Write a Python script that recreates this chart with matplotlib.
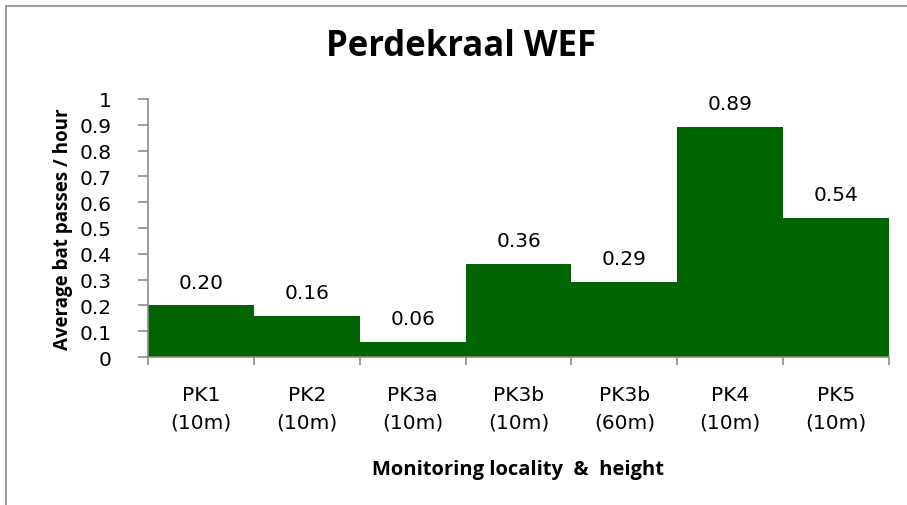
import matplotlib

matplotlib.use("Agg")
import matplotlib.pyplot as plt
from matplotlib.lines import Line2D

plt.rcParams["font.family"] = ["DejaVu Sans"]

# ---- data ----------------------------------------------------------------
localities = ["PK1", "PK2", "PK3a", "PK3b", "PK3b", "PK4", "PK5"]
heights = ["(10m)", "(10m)", "(10m)", "(10m)", "(60m)", "(10m)", "(10m)"]
passes_per_hour = [0.20, 0.16, 0.06, 0.36, 0.29, 0.89, 0.54]
y_ticks = [0, 0.1, 0.2, 0.3, 0.4, 0.5, 0.6, 0.7, 0.8, 0.9, 1]

BAR = "#006400"
AXIS = "#8c8c8c"
W, H = 907, 506
X0, X1, Y0, Y1 = 148, 889, 358, 100  # plot area in pixels

fig = plt.figure(figsize=(W / 100, H / 100), dpi=100)
ax = fig.add_axes([X0 / W, 1 - Y0 / H, (X1 - X0) / W, (Y0 - Y1) / H])

xs = list(range(len(passes_per_hour)))
ax.bar(xs, passes_per_hour, width=1.0, color=BAR, edgecolor=BAR, linewidth=0)
for x, v in zip(xs, passes_per_hour):
    ax.annotate(f"{v:.2f}", (x, v), xytext=(0, 10), textcoords="offset points",
                ha="center", va="bottom", fontsize=14.5)

ax.set_xlim(-0.5, len(xs) - 0.5)
ax.set_ylim(0, 1)
ax.set_yticks(y_ticks)
ax.set_yticklabels([f"{t:g}" for t in y_ticks], fontsize=14.5)

# category labels sit between the boundary ticks
ax.set_xticks([x - 0.5 for x in xs] + [len(xs) - 0.5])
ax.set_xticklabels([])
ax.set_xticks(xs, minor=True)
ax.set_xticklabels([f"{a}\n{b}" for a, b in zip(localities, heights)],
                   minor=True, fontsize=14.5, linespacing=1.6)
ax.tick_params(axis="x", which="minor", length=0, pad=20)
ax.tick_params(axis="x", which="major", length=6, color=AXIS, width=1.2)
ax.tick_params(axis="y", length=7, color=AXIS, width=1.2, pad=19)

for side in ("top", "right"):
    ax.spines[side].set_visible(False)
for side in ("left", "bottom"):
    ax.spines[side].set_color(AXIS)
    ax.spines[side].set_linewidth(1.2)

ax.set_xlabel("Monitoring locality  &  height", fontsize=14.5, fontweight="bold",
              family="Open Sans")
ax.xaxis.set_label_coords(0.5, (Y0 - 470) / (Y0 - Y1))
ax.xaxis.label.set_va("center")
ax.set_ylabel("Average bat passes / hour", fontsize=13.5, fontweight="bold",
              family="Open Sans")
ax.yaxis.set_label_coords((63 - X0) / (X1 - X0), 0.5)
ax.yaxis.label.set_va("center")

fig.text(461 / W, 1 - 47 / H, "Perdekraal WEF", ha="center", va="center",
         fontsize=25, fontweight="bold", family="Open Sans")

# partial chart-area frame (left and top edges visible)
fig.add_artist(Line2D([6 / W, 6 / W], [0, 1 - 7 / H], transform=fig.transFigure,
                      color=AXIS, linewidth=1.2))
fig.add_artist(Line2D([6 / W, 1], [1 - 7 / H, 1 - 7 / H], transform=fig.transFigure,
                      color=AXIS, linewidth=1.2))

fig.savefig("out.png", dpi=100)
